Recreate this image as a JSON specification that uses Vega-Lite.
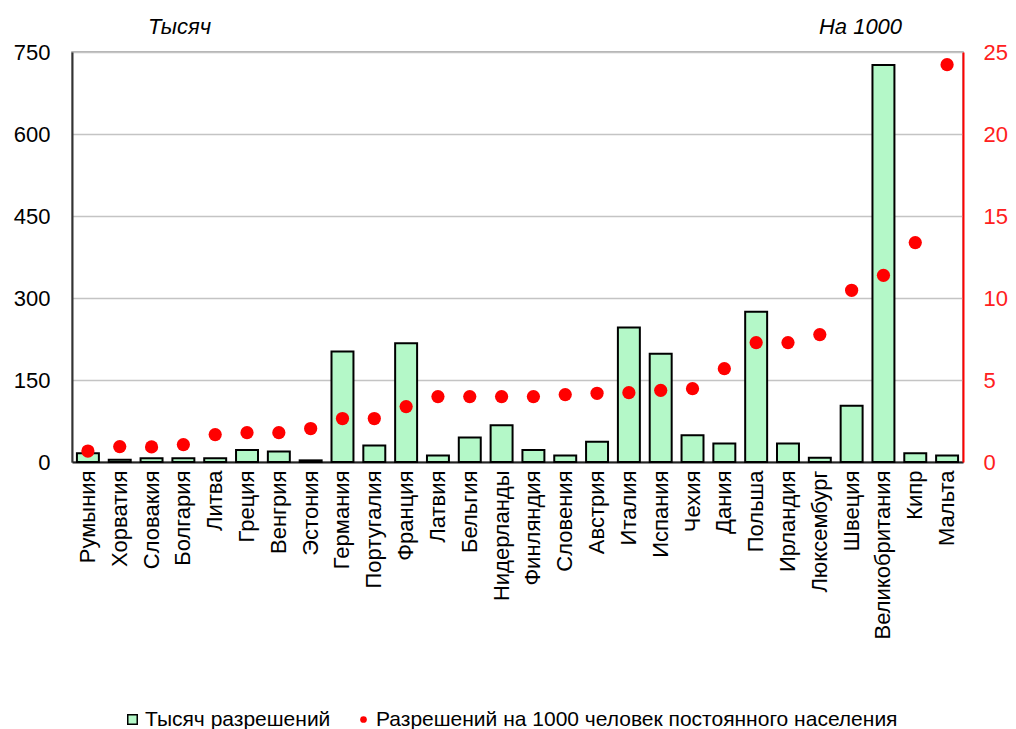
{
  "$schema": "https://vega.github.io/schema/vega-lite/v6.json",
  "width": 891,
  "height": 410,
  "autosize": "none",
  "padding": {"left": 72, "top": 52, "right": 53, "bottom": 267},
  "background": "white",
  "config": {
    "font": "Liberation Sans",
    "view": {"stroke": "#9a9a9a", "strokeWidth": 1.5},
    "axis": {"labelFont": "Liberation Sans", "titleFont": "Liberation Sans"},
    "legend": {"labelFont": "Liberation Sans"}
  },
  "data": {
    "values": [
      {"country": "Румыния", "thousand": 16, "per1000": 0.67},
      {"country": "Хорватия", "thousand": 4, "per1000": 0.94},
      {"country": "Словакия", "thousand": 7, "per1000": 0.92},
      {"country": "Болгария", "thousand": 7, "per1000": 1.06},
      {"country": "Литва", "thousand": 7, "per1000": 1.67},
      {"country": "Греция", "thousand": 22, "per1000": 1.79},
      {"country": "Венгрия", "thousand": 19, "per1000": 1.79},
      {"country": "Эстония", "thousand": 3, "per1000": 2.04},
      {"country": "Германия", "thousand": 202, "per1000": 2.65},
      {"country": "Португалия", "thousand": 30, "per1000": 2.65},
      {"country": "Франция", "thousand": 217, "per1000": 3.38},
      {"country": "Латвия", "thousand": 12, "per1000": 3.99},
      {"country": "Бельгия", "thousand": 45, "per1000": 3.99},
      {"country": "Нидерланды", "thousand": 67, "per1000": 3.99},
      {"country": "Финляндия", "thousand": 22, "per1000": 3.99},
      {"country": "Словения", "thousand": 12, "per1000": 4.11},
      {"country": "Австрия", "thousand": 37, "per1000": 4.19},
      {"country": "Италия", "thousand": 246, "per1000": 4.23},
      {"country": "Испания", "thousand": 198, "per1000": 4.37},
      {"country": "Чехия", "thousand": 49, "per1000": 4.47},
      {"country": "Дания", "thousand": 34, "per1000": 5.69},
      {"country": "Польша", "thousand": 275, "per1000": 7.28},
      {"country": "Ирландия", "thousand": 34, "per1000": 7.28},
      {"country": "Люксембург", "thousand": 8, "per1000": 7.77},
      {"country": "Швеция", "thousand": 103, "per1000": 10.47},
      {"country": "Великобритания", "thousand": 726, "per1000": 11.38},
      {"country": "Кипр", "thousand": 16, "per1000": 13.38},
      {"country": "Мальта", "thousand": 12, "per1000": 24.23}
    ]
  },
  "encoding": {
    "x": {
      "field": "country",
      "type": "nominal",
      "sort": null,
      "scale": {"paddingInner": 0.31, "paddingOuter": 0.155},
      "axis": {
        "title": null,
        "labelAngle": -90,
        "labelFontSize": 22,
        "labelColor": "black",
        "labelPadding": 8,
        "ticks": false,
        "domainColor": "#222222",
        "domainWidth": 2,
        "labelOverlap": false
      }
    }
  },
  "layer": [
    {
      "mark": {"type": "bar", "stroke": "black", "strokeWidth": 2},
      "encoding": {
        "y": {
          "field": "thousand",
          "type": "quantitative",
          "scale": {"domain": [0, 750], "nice": false},
          "axis": {
            "values": [0, 150, 300, 450, 600, 750],
            "title": "Тысяч",
            "titleAngle": 0,
            "titleFontStyle": "italic",
            "titleFontWeight": "normal",
            "titleFontSize": 22,
            "titleColor": "black",
            "titleAlign": "center",
            "titleBaseline": "middle",
            "titleX": 107,
            "titleY": -26,
            "labelFontSize": 22,
            "labelColor": "black",
            "labelPadding": 22,
            "ticks": false,
            "domainColor": "#333333",
            "domainWidth": 2,
            "grid": true,
            "gridColor": "#c4c4c4",
            "gridWidth": 1.5
          }
        },
        "fill": {
          "datum": "Тысяч разрешений",
          "scale": {"range": ["#b4f8c8"]},
          "legend": {
            "title": null,
            "orient": "none",
            "legendX": 50,
            "legendY": 657,
            "symbolType": "square",
            "symbolSize": 90,
            "symbolStrokeColor": "black",
            "symbolStrokeWidth": 1.5,
            "labelFontSize": 21,
            "labelLimit": 900,
            "labelColor": "black",
            "labelOffset": 2
          }
        }
      }
    },
    {
      "mark": {"type": "point", "filled": true, "shape": "circle", "size": 175, "opacity": 1},
      "encoding": {
        "y": {
          "field": "per1000",
          "type": "quantitative",
          "scale": {"domain": [0, 25], "nice": false},
          "axis": {
            "orient": "right",
            "values": [0, 5, 10, 15, 20, 25],
            "title": "На 1000",
            "titleAngle": 0,
            "titleFontStyle": "italic",
            "titleFontWeight": "normal",
            "titleFontSize": 22,
            "titleColor": "black",
            "titleAlign": "center",
            "titleBaseline": "middle",
            "titleX": -103,
            "titleY": -26,
            "labelFontSize": 22,
            "labelColor": "#ff2020",
            "labelPadding": 20,
            "ticks": false,
            "domainColor": "#ff0000",
            "domainWidth": 2,
            "grid": false
          }
        },
        "color": {
          "datum": "Разрешений  на 1000  человек постоянного населения",
          "scale": {"range": ["#ff0000"]},
          "legend": {
            "title": null,
            "orient": "none",
            "legendX": 281,
            "legendY": 657,
            "symbolType": "circle",
            "symbolSize": 45,
            "labelFontSize": 21,
            "labelLimit": 900,
            "labelColor": "black",
            "labelOffset": 2
          }
        }
      }
    }
  ],
  "resolve": {"scale": {"y": "independent"}}
}
